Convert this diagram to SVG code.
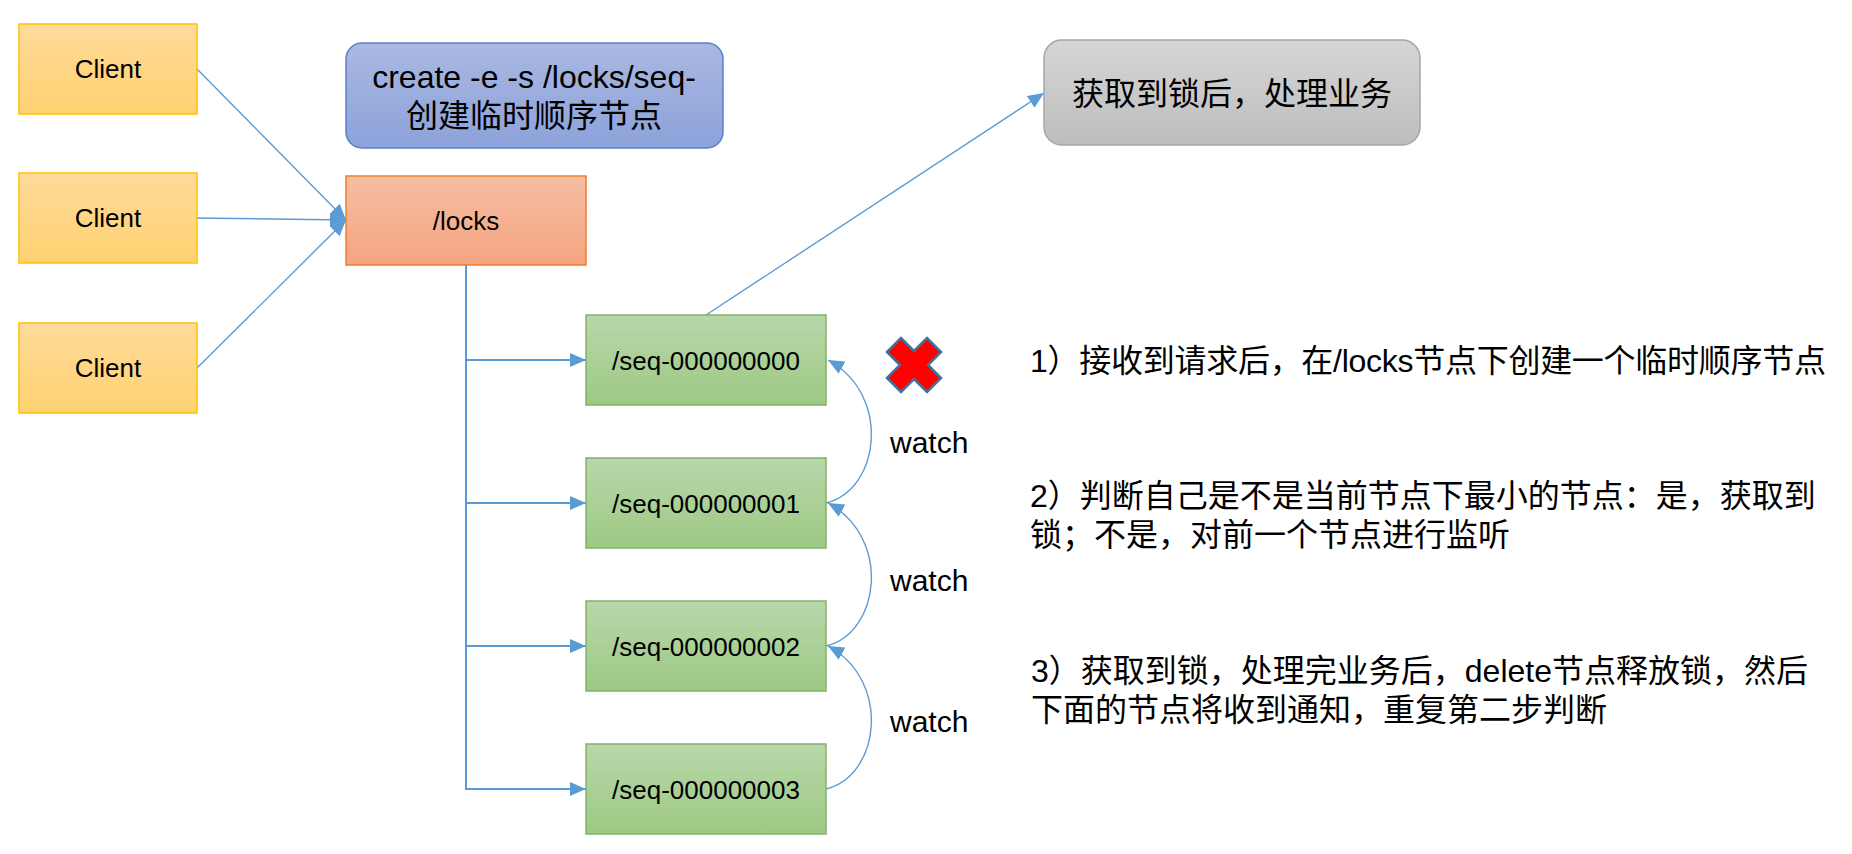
<svg xmlns="http://www.w3.org/2000/svg" width="1852" height="854" viewBox="0 0 1852 854">
  <defs>
    <linearGradient id="gClient" x1="0" y1="0" x2="0" y2="1">
      <stop offset="0" stop-color="#FFDA9B"/>
      <stop offset="1" stop-color="#FFD271"/>
    </linearGradient>
    <linearGradient id="gBlue" x1="0" y1="0" x2="0" y2="1">
      <stop offset="0" stop-color="#AAB8E2"/>
      <stop offset="1" stop-color="#8CA2D9"/>
    </linearGradient>
    <linearGradient id="gOrange" x1="0" y1="0" x2="0" y2="1">
      <stop offset="0" stop-color="#F6BDA3"/>
      <stop offset="1" stop-color="#F5A47F"/>
    </linearGradient>
    <linearGradient id="gGreen" x1="0" y1="0" x2="0" y2="1">
      <stop offset="0" stop-color="#B8D7AA"/>
      <stop offset="1" stop-color="#9DC984"/>
    </linearGradient>
    <linearGradient id="gGray" x1="0" y1="0" x2="0" y2="1">
      <stop offset="0" stop-color="#D6D6D6"/>
      <stop offset="1" stop-color="#BDBDBD"/>
    </linearGradient>
    <marker id="arrow" markerUnits="userSpaceOnUse" markerWidth="17" markerHeight="15" refX="16" refY="7" orient="auto">
      <path d="M0,0 L16,7 L0,14 z" fill="#5B9BD5"/>
    </marker>
    <style>
      text { font-family: "Liberation Sans", "Noto Sans CJK SC", sans-serif; fill: #000; }
      .client { fill: url(#gClient); stroke: #FFC000; stroke-width: 1.5; }
      .blue { fill: url(#gBlue); stroke: #5B7FCB; stroke-width: 1.5; }
      .orange { fill: url(#gOrange); stroke: #ED7D31; stroke-width: 1.5; }
      .green { fill: url(#gGreen); stroke: #82B366; stroke-width: 1.5; }
      .gray { fill: url(#gGray); stroke: #A6A6A6; stroke-width: 1.5; }
      .lbl26 { font-size: 26px; text-anchor: middle; }
      .lbl32 { font-size: 32px; text-anchor: middle; }
      .watch { font-size: 30px; }
      .note { font-size: 32px; }
      .conn { fill: none; stroke: #5B9BD5; stroke-width: 1.4; }
      .trunk { fill: none; stroke: #5B9BD5; stroke-width: 2; }
    </style>
  </defs>

  <rect width="1852" height="854" fill="#FFFFFF"/>

  <g id="connectors">
    <line class="conn" x1="197" y1="69" x2="346" y2="220" marker-end="url(#arrow)"/>
    <line class="conn" x1="197" y1="218" x2="346" y2="220" marker-end="url(#arrow)"/>
    <line class="conn" x1="197" y1="368" x2="346" y2="220" marker-end="url(#arrow)"/>
    <path class="trunk" d="M466,265 L466,789"/>
    <line class="trunk" x1="466" y1="360" x2="586" y2="360" marker-end="url(#arrow)"/>
    <line class="trunk" x1="466" y1="503" x2="586" y2="503" marker-end="url(#arrow)"/>
    <line class="trunk" x1="466" y1="646" x2="586" y2="646" marker-end="url(#arrow)"/>
    <line class="trunk" x1="465" y1="789" x2="586" y2="789" marker-end="url(#arrow)"/>
    <line class="conn" x1="706" y1="315" x2="1044" y2="93" marker-end="url(#arrow)"/>
    <path class="conn" d="M826,503 C880,490 892,395 828,360" marker-end="url(#arrow)"/>
    <path class="conn" d="M826,646 C880,633 892,538 828,503" marker-end="url(#arrow)"/>
    <path class="conn" d="M826,789 C880,776 892,681 828,646" marker-end="url(#arrow)"/>
  </g>

  <g id="client1">
    <rect class="client" x="19" y="24" width="178" height="90"/>
    <text class="lbl26" x="108" y="78">Client</text>
  </g>
  <g id="client2">
    <rect class="client" x="19" y="173" width="178" height="90"/>
    <text class="lbl26" x="108" y="227">Client</text>
  </g>
  <g id="client3">
    <rect class="client" x="19" y="323" width="178" height="90"/>
    <text class="lbl26" x="108" y="377">Client</text>
  </g>

  <g id="create">
    <rect class="blue" x="346" y="43" width="377" height="105" rx="16" ry="16"/>
    <text class="lbl32" x="534" y="88">create -e -s /locks/seq-</text>
    <text class="lbl32" x="534" y="127">创建临时顺序节点</text>
  </g>

  <g id="locks">
    <rect class="orange" x="346" y="176" width="240" height="89"/>
    <text class="lbl26" x="466" y="230">/locks</text>
  </g>

  <g id="business">
    <rect class="gray" x="1044" y="40" width="376" height="105" rx="18" ry="18"/>
    <text class="lbl32" x="1232" y="105">获取到锁后，处理业务</text>
  </g>

  <g id="seq0">
    <rect class="green" x="586" y="315" width="240" height="90"/>
    <text class="lbl26" x="706" y="370">/seq-000000000</text>
  </g>
  <g id="seq1">
    <rect class="green" x="586" y="458" width="240" height="90"/>
    <text class="lbl26" x="706" y="513">/seq-000000001</text>
  </g>
  <g id="seq2">
    <rect class="green" x="586" y="601" width="240" height="90"/>
    <text class="lbl26" x="706" y="656">/seq-000000002</text>
  </g>
  <g id="seq3">
    <rect class="green" x="586" y="744" width="240" height="90"/>
    <text class="lbl26" x="706" y="799">/seq-000000003</text>
  </g>

  <g id="cross">
    <polygon points="887,352 901,338 914,351 927,338 941,352 928,365 941,378 927,392 914,379 901,392 887,378 900,365" fill="#FF0000" stroke="#41719C" stroke-width="2.5" stroke-linejoin="miter"/>
  </g>

  <g id="watch-labels">
    <text class="watch" x="890" y="453">watch</text>
    <text class="watch" x="890" y="591">watch</text>
    <text class="watch" x="890" y="732">watch</text>
  </g>

  <g id="notes">
    <text class="note" x="1030" y="372" textLength="796" lengthAdjust="spacing">1）接收到请求后，在/locks节点下创建一个临时顺序节点</text>
    <text class="note" x="1030" y="507">2）判断自己是不是当前节点下最小的节点：是，获取到</text>
    <text class="note" x="1030" y="546">锁；不是，对前一个节点进行监听</text>
    <text class="note" x="1031" y="682">3）获取到锁，处理完业务后，delete节点释放锁，然后</text>
    <text class="note" x="1031" y="721">下面的节点将收到通知，重复第二步判断</text>
  </g>
</svg>
